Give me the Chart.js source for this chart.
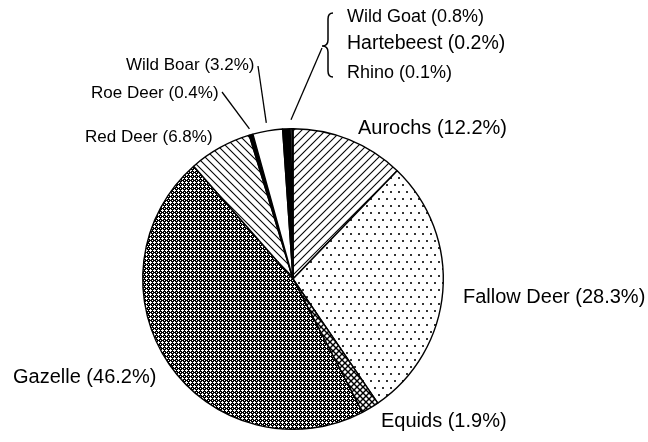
<!DOCTYPE html>
<html>
<head>
<meta charset="utf-8">
<script src="https://cdn.jsdelivr.net/npm/chart.js"></script>
<style>
  html, body { margin: 0; padding: 0; background: #fff; }
  #wrap { width: 648px; height: 442px; }
</style>
</head>
<body>
<div id="wrap"><canvas id="myChart" width="648" height="442"></canvas></div>
<script>
  // data, clockwise from 12 o'clock
  const species = ['Aurochs', 'Fallow Deer', 'Equids', 'Gazelle', 'Red Deer', 'Roe Deer', 'Wild Boar', 'Wild Goat', 'Hartebeest', 'Rhino'];
  const percents = [12.2, 28.3, 1.9, 46.2, 6.8, 0.4, 3.2, 0.8, 0.2, 0.1];

  // label placement, offsets from pie centre (px)
  const labelPos = [
    { dx: 65, dy: -151, size: 20 },
    { dx: 170, dy: 18, size: 20 },
    { dx: 88, dy: 142, size: 20 },
    { dx: -280, dy: 98, size: 20 },
    { dx: -208, dy: -142, size: 17 },
    { dx: -202, dy: -186, size: 17 },
    { dx: -167, dy: -214, size: 17 },
    { dx: 54, dy: -262, size: 18 },
    { dx: 54, dy: -235, size: 19.5 },
    { dx: 54, dy: -206, size: 18 }
  ];
  // leader lines: slice index, start offset from centre, extension past rim
  const leaders = [
    { i: 5, sx: -71, sy: -187, ext: 6 },
    { i: 6, sx: -35, sy: -213, ext: 8 },
    { i: 8, sx: 29, sy: -231, ext: 9 }
  ];

  var canvas = document.getElementById('myChart');
  var ctx = canvas.getContext('2d');

  function tile(w, h, draw) {
    var c = document.createElement('canvas');
    c.width = w; c.height = h;
    var g = c.getContext('2d');
    g.fillStyle = '#fff';
    g.fillRect(0, 0, w, h);
    g.strokeStyle = '#000';
    g.fillStyle = '#000';
    draw(g, w, h);
    return ctx.createPattern(c, 'repeat');
  }
  function seg(g, x1, y1, x2, y2) {
    g.beginPath(); g.moveTo(x1, y1); g.lineTo(x2, y2); g.stroke();
  }
  function fwd(g, s) { // "/"
    seg(g, -2, 2, 2, -2); seg(g, -2, s + 2, s + 2, -2); seg(g, s - 2, s + 2, s + 2, s - 2);
  }
  function back(g, s) { // "\"
    seg(g, -2, -2, s + 2, s + 2); seg(g, -2, s - 2, 2, s + 2); seg(g, s - 2, -2, s + 2, 2);
  }

  var slash = tile(8, 8, function (g) { g.lineWidth = 1.1; fwd(g, 8); });
  var backslash = tile(8, 8, function (g) { g.lineWidth = 1.1; back(g, 8); });
  var dots = tile(8, 14, function (g) {
    g.fillStyle = '#333';
    g.fillRect(2, 2, 2, 2);
    g.fillRect(6, 9, 2, 2);
  });
  // dense mesh: black with small white crosses
  var fine = tile(4, 4, function (g) {
    g.fillRect(0, 0, 4, 4);
    g.fillStyle = '#fff';
    g.fillRect(2, 1, 1, 3);
    g.fillRect(1, 2, 3, 1);
    g.fillRect(0, 0, 1, 1);
  });
  var checks = tile(6, 6, function (g) { g.lineWidth = 1.4; fwd(g, 6); back(g, 6); });

  const fills = [slash, dots, checks, fine, backslash, '#000', '#fff', '#000', '#fff', '#fff'];

  const labelPlugin = {
    id: 'sliceLabels',
    afterDraw(chart) {
      var c = chart.ctx;
      var arcs = chart.getDatasetMeta(0).data;
      var cx = arcs[0].x, cy = arcs[0].y, r = arcs[0].outerRadius;
      c.save();
      c.fillStyle = '#000';
      c.textBaseline = 'middle';
      c.textAlign = 'left';
      species.forEach(function (name, i) {
        var p = labelPos[i];
        c.font = p.size + 'px "Liberation Sans", Arial, sans-serif';
        c.fillText(name + ' (' + percents[i].toFixed(1) + '%)', cx + p.dx, cy + p.dy);
      });
      c.strokeStyle = '#000';
      c.lineWidth = 1.3;
      leaders.forEach(function (l) {
        var a = arcs[l.i];
        var mid = (a.startAngle + a.endAngle) / 2;
        c.beginPath();
        c.moveTo(cx + l.sx, cy + l.sy);
        c.lineTo(cx + Math.cos(mid) * (r + l.ext), cy + Math.sin(mid) * (r + l.ext));
        c.stroke();
      });
      // brace grouping the three smallest slices
      var bx = cx + 35, by = cy - 266;
      c.lineWidth = 1.5;
      c.beginPath();
      c.moveTo(bx + 5, by);
      c.quadraticCurveTo(bx, by, bx, by + 6);
      c.lineTo(bx, by + 27);
      c.quadraticCurveTo(bx, by + 33, bx - 6, by + 33);
      c.quadraticCurveTo(bx, by + 33, bx, by + 39);
      c.lineTo(bx, by + 58);
      c.quadraticCurveTo(bx, by + 64, bx + 5, by + 64);
      c.stroke();
      c.restore();
    }
  };

  var myChart = new Chart(canvas, {
    type: 'pie',
    data: {
      labels: species,
      datasets: [{
        data: percents,
        backgroundColor: fills,
        borderColor: '#000',
        borderWidth: 1.4
      }]
    },
    options: {
      responsive: false,
      animation: false,
      events: [],
      layout: { padding: { left: 142, right: 204, top: 127, bottom: 11 } },
      plugins: {
        legend: { display: false },
        tooltip: { enabled: false }
      }
    },
    plugins: [labelPlugin]
  });
</script>
</body>
</html>
